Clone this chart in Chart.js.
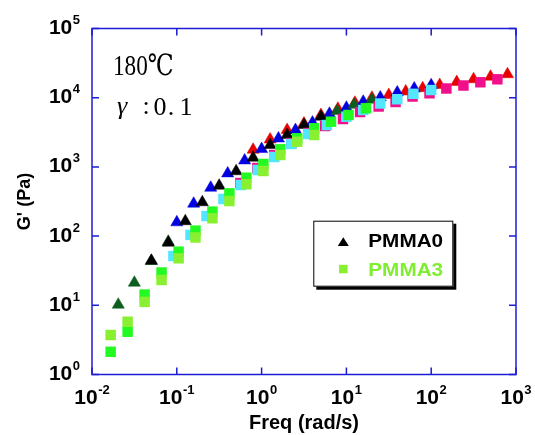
<!DOCTYPE html>
<html><head><meta charset="utf-8">
<script src="https://cdn.jsdelivr.net/npm/chart.js"></script>
<style>html,body{margin:0;padding:0;background:#fff}#wrap{width:535px;height:435px}</style>
</head><body><div id="wrap"><canvas id="c" width="535" height="435"></canvas></div>
<script>
// ---------- texts / ticks ----------
const xTickExps = [-2, -1, 0, 1, 2, 3];
const yTickExps = [0, 1, 2, 3, 4, 5];
const xTitle = 'Freq (rad/s)';
const yTitle = "G' (Pa)";
const legendLabels = ['PMMA0', 'PMMA3'];
const noteLine1 = '180℃';
const noteLine2 = ['γ', ':', '0', '.', '1'];

// ---------- PMMA0 (triangles, several shifted runs) ----------
const freqDarkGreen = [0.0204, 0.0316, 0.0501, 0.0794, 7.76, 12.3, 20.0];
const gDarkGreen    = [10.2, 21.2, 43.6, 83.0, 6412, 7907, 9354];
const freqBlack = [0.0501, 0.0794, 0.126, 0.2, 0.316, 0.501, 0.794, 1.26, 2.0, 3.16, 5.01];
const gBlack    = [44.1, 80.2, 164, 308, 535, 865, 1358, 2070, 2891, 4027, 5309];
const freqBlue = [0.1, 0.158, 0.251, 0.398, 0.631, 1.0, 1.58, 2.51, 3.98, 6.31, 10, 15.8, 25.1, 39.8, 63.1, 100];
const gBlue    = [158, 294, 500, 805, 1239, 1811, 2576, 3412, 4365, 5861, 7161, 8750, 10093, 11912, 13614, 15136];
const freqRed = [0.794, 1.26, 2.0, 3.16, 5.01, 7.94, 12.6, 20.0, 31.6, 50.1, 79.4, 126, 200, 316, 501, 794];
const gRed    = [1770, 2495, 3412, 4246, 5623, 6934, 8453, 10000, 10940, 12330, 13710, 15240, 16830, 18490, 20090, 21830];

// ---------- PMMA3 (squares, several shifted runs) ----------
const freqLime = [0.0166, 0.0263, 0.0417, 0.0661, 0.105, 0.166, 0.263, 0.417, 0.661, 1.05, 1.66, 2.63, 4.17];
const gLime    = [3.72, 5.79, 11.2, 23.2, 47.8, 95.5, 181, 321, 561, 873, 1486, 2312, 2891];
const freqGreen = [0.0166, 0.0263, 0.0417, 0.0661, 0.105, 0.166, 0.263, 0.417, 0.661, 1.05, 1.66, 2.63, 4.17, 6.58, 10.6, 17.0];
const gGreen    = [2.13, 4.15, 14.3, 29.8, 59.6, 120, 226, 415, 698, 1102, 1795, 2588, 3614, 4498, 5623, 7031];
const freqCyan = [0.0912, 0.145, 0.224, 0.355, 0.569, 0.902, 1.41, 2.24, 3.55, 5.89, 10.0, 15.8, 25.1, 39.8, 61.7, 100];
const gCyan    = [51.5, 104, 195, 344, 547, 902, 1390, 2143, 2985, 4027, 5309, 6637, 8241, 9506, 11376, 12912];
const freqMagenta = [0.562, 0.891, 1.41, 2.24, 3.55, 5.62, 9.12, 14.5, 24.0, 38.0, 60.3, 95.5, 151, 240, 380, 603];
const gMagenta    = [585, 964, 1486, 2213, 3090, 3899, 4920, 6209, 7464, 8670, 10399, 11588, 13583, 14997, 16711, 18450];

const pts = (xs, ys) => xs.map((x, i) => ({x: x, y: ys[i]}));
const FONT = "'Liberation Sans', Arial, sans-serif";
const FRAME = '#1c1cd6';

function tri(label, xs, ys, color, order) {
  return {label, data: pts(xs, ys), pointStyle: 'triangle', pointRadius: 7, pointHoverRadius: 7,
    backgroundColor: color, borderColor: color, borderWidth: 0.5, showLine: false, order, clip: false};
}
function sq(label, xs, ys, color, order) {
  return {label, data: pts(xs, ys), pointStyle: 'rect', pointRadius: 7.4, pointHoverRadius: 7.4,
    backgroundColor: color, borderColor: color, borderWidth: 0, showLine: false, order, clip: false};
}

const decor = {
  id: 'decor',
  afterDraw(chart) {
    const ctx = chart.ctx, a = chart.chartArea;
    const xs = chart.scales.x, ys = chart.scales.y;
    ctx.save();
    // frame
    ctx.strokeStyle = FRAME; ctx.lineWidth = 1.5;
    ctx.strokeRect(a.left, a.top, a.right - a.left, a.bottom - a.top);
    // ticks (inward, all sides)
    ctx.beginPath();
    xTickExps.forEach(e => {
      const px = xs.getPixelForValue(Math.pow(10, e));
      ctx.moveTo(px, a.bottom); ctx.lineTo(px, a.bottom - 7);
      ctx.moveTo(px, a.top); ctx.lineTo(px, a.top + 7);
    });
    yTickExps.forEach(e => {
      const py = ys.getPixelForValue(Math.pow(10, e));
      ctx.moveTo(a.left, py); ctx.lineTo(a.left + 7, py);
      ctx.moveTo(a.right, py); ctx.lineTo(a.right - 7, py);
    });
    ctx.stroke();
    // tick labels 10^n
    ctx.fillStyle = '#000';
    const base = 'bold 21px ' + FONT, sup = 'bold 13px ' + FONT;
    function label(e, xCenter, xRight, cy) {
      ctx.font = base; const w1 = ctx.measureText('10').width;
      ctx.font = sup; const w2 = ctx.measureText(String(e)).width;
      const w = w1 + w2 + 0.5;
      let x0 = (xRight != null) ? xRight - w : xCenter - w / 2;
      ctx.textAlign = 'left'; ctx.textBaseline = 'alphabetic';
      ctx.font = base; ctx.fillText('10', x0, cy + 7.5);
      ctx.font = sup; ctx.fillText(String(e), x0 + w1 + 0.5, cy - 2.5);
    }
    xTickExps.forEach(e => label(e, xs.getPixelForValue(Math.pow(10, e)), null, 396));
    yTickExps.forEach(e => label(e, null, 80, ys.getPixelForValue(Math.pow(10, e)) - 2));

    // annotation
    ctx.textBaseline = 'alphabetic';
    ctx.save();
    ctx.translate(113, 75); ctx.scale(0.8, 1);
    ctx.font = "29px 'Liberation Serif', 'DejaVu Serif', serif";
    ctx.textAlign = 'left';
    ctx.fillText(noteLine1, 0, 0);
    ctx.restore();
    ctx.font = "italic 26px 'Liberation Serif', 'DejaVu Serif', serif";
    ctx.textAlign = 'left'; ctx.fillText(noteLine2[0], 117, 114);
    ctx.font = "26px 'Liberation Serif', 'DejaVu Serif', serif";
    ctx.textAlign = 'center';
    ctx.fillText(noteLine2[1], 146, 114);
    ctx.fillText(noteLine2[2], 160, 115);
    ctx.fillText(noteLine2[3], 171, 115);
    ctx.fillText(noteLine2[4], 186, 115);

    // legend
    const L = 313.3, T = 220.7, W = 140, H = 66;
    ctx.fillStyle = '#000'; ctx.fillRect(L + 3, T + 3, W, H);
    ctx.fillStyle = '#fff'; ctx.fillRect(L, T, W, H);
    ctx.strokeStyle = '#000'; ctx.lineWidth = 1; ctx.strokeRect(L + 0.5, T + 0.5, W - 1, H - 1);
    const ds = chart.data.datasets;
    const d0 = ds.find(d => d.label === legendLabels[0]);
    const d1 = ds.find(d => d.label === legendLabels[1]);
    ctx.fillStyle = d0.backgroundColor;
    ctx.beginPath(); ctx.moveTo(343.3, 237.3); ctx.lineTo(337.8, 246); ctx.lineTo(348.8, 246); ctx.closePath(); ctx.fill();
    ctx.fillStyle = d1.backgroundColor;
    ctx.fillRect(339.1, 264.8, 8.5, 8.5);
    ctx.textAlign = 'left';
    [[legendLabels[0], 247.3, '#000'], [legendLabels[1], 275.7, '#80ee30']].forEach(([t, y, c]) => {
      ctx.save(); ctx.translate(368.3, y); ctx.scale(1.12, 1);
      ctx.font = 'bold 18.5px ' + FONT; ctx.fillStyle = c; ctx.fillText(t, 0, 0);
      ctx.restore();
    });
    ctx.restore();
  }
};

new Chart(document.getElementById('c'), {
  type: 'scatter',
  data: {
    datasets: [
      sq(legendLabels[1], freqLime, gLime, '#88f030', 1),
      sq('PMMA3 b', freqGreen, gGreen, '#22fa22', 2),
      sq('PMMA3 c', freqCyan, gCyan, '#52e6ff', 3),
      sq('PMMA3 d', freqMagenta, gMagenta, '#f0108c', 4),
      tri(legendLabels[0], freqBlack, gBlack, '#000000', 5),
      tri('PMMA0 b', freqDarkGreen, gDarkGreen, '#0b5e1e', 6),
      tri('PMMA0 c', freqBlue, gBlue, '#0000e0', 7),
      tri('PMMA0 d', freqRed, gRed, '#e60000', 8)
    ]
  },
  options: {
    responsive: false, animation: false, events: [],
    layout: {padding: {top: 28.5, right: 19, left: 0, bottom: 0}},
    plugins: {legend: {display: false}, tooltip: {enabled: false}},
    scales: {
      x: {type: 'logarithmic', min: 0.01, max: 1000,
        ticks: {display: false}, grid: {display: false}, border: {display: false},
        title: {display: true, text: xTitle, color: '#000', font: {family: FONT, size: 20, weight: 'bold'}, padding: {top: 0, bottom: 0}},
        afterFit(s) { s.height = 60.5; }},
      y: {type: 'logarithmic', min: 1, max: 100000,
        ticks: {display: false}, grid: {display: false}, border: {display: false},
        title: {display: true, text: yTitle, color: '#000', font: {family: FONT, size: 18, weight: 'bold'}, padding: {top: 14.2, bottom: 0}},
        afterFit(s) { s.width = 92; }}
    }
  },
  plugins: [decor]
});
</script></body></html>
